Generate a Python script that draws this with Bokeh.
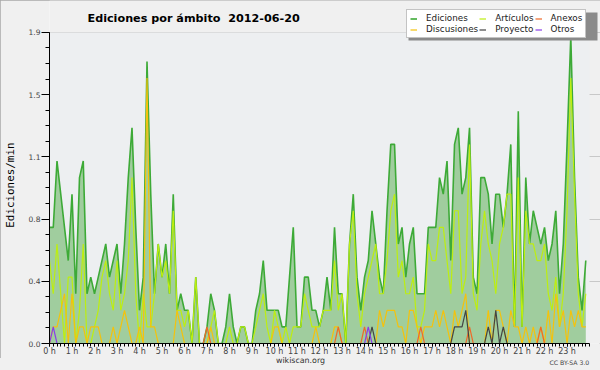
from bokeh.plotting import figure
from bokeh.models import FixedTicker, Label, Legend, LegendItem, Range1d, BoxAnnotation, Div
from bokeh.layouts import column
from bokeh.embed import file_html
from bokeh.resources import INLINE

# ---- data: edits per minute, one value per 10-minute slot (2012-06-20) ----
ediciones = [0.7, 0.7, 1.1, 0.9, 0.7, 0.5, 0.9, 0.3, 1.0, 1.1, 0.3, 0.4, 0.3, 0.4, 0.5, 0.6,
             0.4, 0.5, 0.6, 0.3, 0.6, 1.0, 1.3, 0.7, 0.2, 0.4, 1.7, 0.9, 0.3, 0.6, 0.4, 0.6,
             0.3, 0.9, 0.2, 0.3, 0.2, 0.2, 0.0, 0.4, 0.0, 0.0, 0.1, 0.3, 0.2, 0.0, 0.0, 0.1,
             0.3, 0.1, 0.0, 0.1, 0.1, 0.0, 0.0, 0.2, 0.3, 0.5, 0.2, 0.2, 0.2, 0.2, 0.1, 0.1,
             0.4, 0.7, 0.1, 0.1, 0.4, 0.4, 0.2, 0.2, 0.1, 0.2, 0.4, 0.2, 0.7, 0.3, 0.3, 0.0,
             0.6, 0.9, 0.4, 0.2, 0.4, 0.5, 0.8, 0.6, 0.4, 0.3, 0.8, 1.2, 1.2, 0.6, 0.7, 0.4,
             0.6, 0.7, 0.3, 0.3, 0.3, 0.7, 0.7, 0.7, 1.0, 0.9, 1.1, 0.5, 1.2, 1.3, 0.9, 1.0,
             1.3, 0.4, 0.3, 1.0, 1.0, 0.9, 0.6, 0.9, 0.9, 0.7, 0.9, 1.2, 0.1, 1.4, 0.1, 1.0,
             0.6, 0.8, 0.7, 0.6, 0.7, 0.5, 0.6, 0.8, 0.3, 0.6, 1.2, 1.85, 1.0, 0.4, 0.2, 0.5]
articulos = [0.5, 0.3, 0.6, 0.3, 0.0, 0.4, 0.4, 0.0, 0.2, 0.6, 0.0, 0.0, 0.1, 0.2, 0.4, 0.5,
             0.3, 0.2, 0.5, 0.2, 0.3, 0.5, 1.0, 0.3, 0.0, 0.3, 0.1, 0.1, 0.3, 0.6, 0.4, 0.5,
             0.3, 0.8, 0.2, 0.2, 0.1, 0.2, 0.0, 0.4, 0.0, 0.0, 0.0, 0.1, 0.2, 0.0, 0.0, 0.0,
             0.1, 0.0, 0.0, 0.1, 0.1, 0.0, 0.0, 0.1, 0.2, 0.3, 0.1, 0.0, 0.2, 0.1, 0.0, 0.1,
             0.0, 0.1, 0.1, 0.1, 0.3, 0.2, 0.1, 0.1, 0.1, 0.2, 0.2, 0.2, 0.5, 0.2, 0.3, 0.0,
             0.6, 0.8, 0.3, 0.1, 0.3, 0.4, 0.5, 0.6, 0.3, 0.3, 0.5, 0.8, 0.9, 0.4, 0.5, 0.3,
             0.3, 0.4, 0.1, 0.1, 0.2, 0.6, 0.5, 0.5, 0.7, 0.7, 0.5, 0.3, 0.8, 0.8, 0.3, 0.4,
             1.2, 0.3, 0.2, 0.6, 0.8, 0.6, 0.5, 0.3, 0.6, 0.7, 0.9, 0.9, 0.1, 1.0, 0.1, 0.8,
             0.6, 0.6, 0.5, 0.5, 0.6, 0.3, 0.2, 0.4, 0.1, 0.3, 0.8, 1.6, 0.9, 0.3, 0.1, 0.3]
discusiones = [0.0, 0.1, 0.1, 0.2, 0.3, 0.0, 0.3, 0.0, 0.1, 0.1, 0.0, 0.1, 0.1, 0.1, 0.0, 0.0,
               0.0, 0.1, 0.0, 0.1, 0.2, 0.1, 0.0, 0.0, 0.1, 0.0, 1.6, 0.1, 0.1, 0.0, 0.0, 0.0,
               0.0, 0.0, 0.2, 0.1, 0.0, 0.0, 0.0, 0.0, 0.0, 0.0, 0.0, 0.1, 0.0, 0.0, 0.0, 0.0,
               0.0, 0.0, 0.0, 0.0, 0.0, 0.0, 0.0, 0.0, 0.0, 0.0, 0.0, 0.0, 0.1, 0.1, 0.0, 0.0,
               0.0, 0.0, 0.0, 0.0, 0.0, 0.0, 0.0, 0.1, 0.0, 0.0, 0.0, 0.0, 0.1, 0.1, 0.0, 0.0,
               0.0, 0.0, 0.0, 0.0, 0.0, 0.0, 0.0, 0.0, 0.2, 0.1, 0.2, 0.2, 0.2, 0.1, 0.1, 0.0,
               0.2, 0.2, 0.1, 0.0, 0.1, 0.1, 0.1, 0.2, 0.1, 0.2, 0.1, 0.0, 0.2, 0.1, 0.2, 0.3,
               0.0, 0.0, 0.0, 0.0, 0.0, 0.2, 0.0, 0.2, 0.2, 0.1, 0.0, 0.2, 0.1, 0.1, 0.0, 0.1,
               0.0, 0.1, 0.0, 0.1, 0.0, 0.2, 0.0, 0.3, 0.1, 0.2, 0.0, 0.2, 0.1, 0.2, 0.1, 0.1]
# sparse series: slot index -> value
anexos_spikes = {42: 0.1, 77: 0.1, 84: 0.1, 99: 0.1, 112: 0.1, 131: 0.1}
proyecto_spikes = {86: 0.1, 108: 0.1, 109: 0.1, 110: 0.1, 111: 0.2, 117: 0.1, 119: 0.2, 121: 0.1}
otros_spikes = {1: 0.1, 85: 0.1}

hour_labels = [f"{h} h" for h in range(24)]
y_ticks = [0.0, 0.375, 0.75, 1.125, 1.5, 1.875]
y_tick_labels = ["0.0", "0.4", "0.8", "1.1", "1.5", "1.9"]

n = len(ediciones)
hours = [i / 6 for i in range(n)]
anexos = [anexos_spikes.get(i, 0.0) for i in range(n)]
proyecto = [proyecto_spikes.get(i, 0.0) for i in range(n)]
otros = [otros_spikes.get(i, 0.0) for i in range(n)]

FONT = "DejaVu Sans"
BG = "#f0f0f0"

W, H_FIG, H_FOOT = 600, 358, 12
LEFT = 47
FRAME_H = 344.0          # canvas px from top to the y=0 line
Y_TOP_PX = 312.0         # px from y=0 up to the top tick
X24_PX = 542.0           # px from 0 h to 24 h
FRAME_W = W - LEFT
y_max = y_ticks[-1] * FRAME_H / Y_TOP_PX
x_max = 24 * FRAME_W / X24_PX

p = figure(width=W, height=H_FIG, output_backend="svg", toolbar_location=None,
           x_range=Range1d(0, x_max), y_range=Range1d(0, y_max),
           min_border_left=LEFT, min_border_right=0, min_border_top=0,
           min_border_bottom=int(H_FIG - FRAME_H))
p.background_fill_color = BG
p.border_fill_color = BG
p.outline_line_color = None

# plotting area background (0 h - 24 h, 0 - top tick)
p.quad(left=0, right=24, bottom=0, top=y_ticks[-1], fill_color="#edeff1", line_color=None)

# axes
p.xaxis.ticker = FixedTicker(ticks=list(range(24)), minor_ticks=[i / 6 for i in range(145)])
p.xaxis.major_label_overrides = {h: hour_labels[h] for h in range(24)}
p.xaxis.bounds = (0, 24)
p.yaxis.ticker = FixedTicker(ticks=y_ticks, minor_ticks=[i * 0.09375 for i in range(21)])
p.yaxis.major_label_overrides = {t: l for t, l in zip(y_ticks, y_tick_labels)}
p.yaxis.bounds = (0, y_ticks[-1])
for ax in (p.xaxis[0], p.yaxis[0]):
    ax.axis_line_color = "black"
    ax.major_tick_line_color = "black"
    ax.minor_tick_line_color = "black"
    ax.major_tick_in = 0
    ax.minor_tick_in = 0
    ax.major_label_text_font = FONT
    ax.major_label_text_color = "#444444"
p.xaxis.major_tick_out = 3
p.xaxis.minor_tick_out = 3
p.xaxis.major_label_standoff = 0
p.xaxis.major_label_text_font_size = "8px"
p.yaxis.major_tick_out = 8
p.yaxis.minor_tick_out = 4
p.yaxis.major_label_standoff = 1
p.yaxis.major_label_text_font_size = "7.5px"
p.yaxis.axis_label = "Ediciones/min\u00a0\u00a0\u00a0\u00a0"
p.yaxis.axis_label_text_font = "DejaVu Sans Mono"
p.yaxis.axis_label_text_font_style = "normal"
p.yaxis.axis_label_text_font_size = "10.9px"
p.yaxis.axis_label_text_color = "black"
p.yaxis.axis_label_standoff = 9
p.xgrid.visible = False
p.ygrid.ticker = FixedTicker(ticks=y_ticks)
p.ygrid.grid_line_color = "#c8c8c8"

# data
p.varea(x=hours, y1=[0.0] * n, y2=ediciones, fill_color="#a0cd9e")
r_ed = p.line(hours, ediciones, line_color="#3daa37", line_width=1.6)
r_art = p.line(hours, articulos, line_color="#bdee10", line_width=1.2)
r_dis = p.line(hours, discusiones, line_color="#f4c20d", line_width=1.2)
r_anx = p.line(hours, anexos, line_color="#ee6a2a", line_width=1.2)
r_pro = p.line(hours, proyecto, line_color="#444444", line_width=1.2)
r_otr = p.line(hours, otros, line_color="#8a3ee8", line_width=1.2)

# legend shadow + legend (screen units measured from frame's bottom-left)
LG_X, LG_TOP, LG_BOTTOM, LG_W = 404 - LEFT, 11, 39, 189
p.add_layout(BoxAnnotation(left=LG_X + 2, right=LG_X + LG_W + 2,
                           bottom=FRAME_H - LG_BOTTOM - 2, top=FRAME_H - LG_TOP - 2,
                           left_units="screen", right_units="screen",
                           bottom_units="screen", top_units="screen",
                           fill_color="#8a8a8a", fill_alpha=1.0, line_color=None))
legend = Legend(items=[LegendItem(label="Ediciones", renderers=[r_ed]),
                       LegendItem(label="Discusiones", renderers=[r_dis]),
                       LegendItem(label="Artículos", renderers=[r_art]),
                       LegendItem(label="Proyecto", renderers=[r_pro]),
                       LegendItem(label="Anexos", renderers=[r_anx]),
                       LegendItem(label="Otros", renderers=[r_otr])],
                location=(LG_X, FRAME_H - LG_BOTTOM), orientation="vertical", nrows=2,
                label_text_font=FONT, label_text_font_size="8.8px", label_text_color="#222222",
                glyph_width=7, glyph_height=9, label_height=9, label_standoff=9,
                spacing=1, padding=3, margin=0,
                border_line_color="#888888", background_fill_color="white",
                background_fill_alpha=1.0)
p.add_layout(legend)

# title (two spaces before the date, kept with a no-break space)
p.add_layout(Label(x=85 - LEFT, y=FRAME_H - 19.3, x_units="screen", y_units="screen",
                   text="Ediciones por ámbito \u00a02012-06-20", text_font=FONT,
                   text_font_style="bold", text_font_size="11.2px", text_color="black",
                   text_baseline="alphabetic", text_align="left"))

footer = Div(text=(
    '<div style="position:relative;width:600px;height:12px;background:#f0f0f0;'
    'font-family:\'DejaVu Sans\';line-height:1;">'
    '<span style="position:absolute;left:300.5px;top:-0.7px;transform:translateX(-50%);'
    'font-size:7.9px;color:#333;white-space:nowrap;">wikiscan.org</span>'
    '<span style="position:absolute;right:10.7px;top:1.5px;font-size:6.2px;color:#444;'
    'white-space:nowrap;">CC BY-SA 3.0</span></div>'),
    width=W, height=H_FOOT, margin=0, styles={"background-color": BG})

layout = column(p, footer, spacing=0,
                styles={"outline": "1px solid #a8a8a8", "outline-offset": "-1px"})
open("out.html", "w").write(file_html(layout, INLINE))
